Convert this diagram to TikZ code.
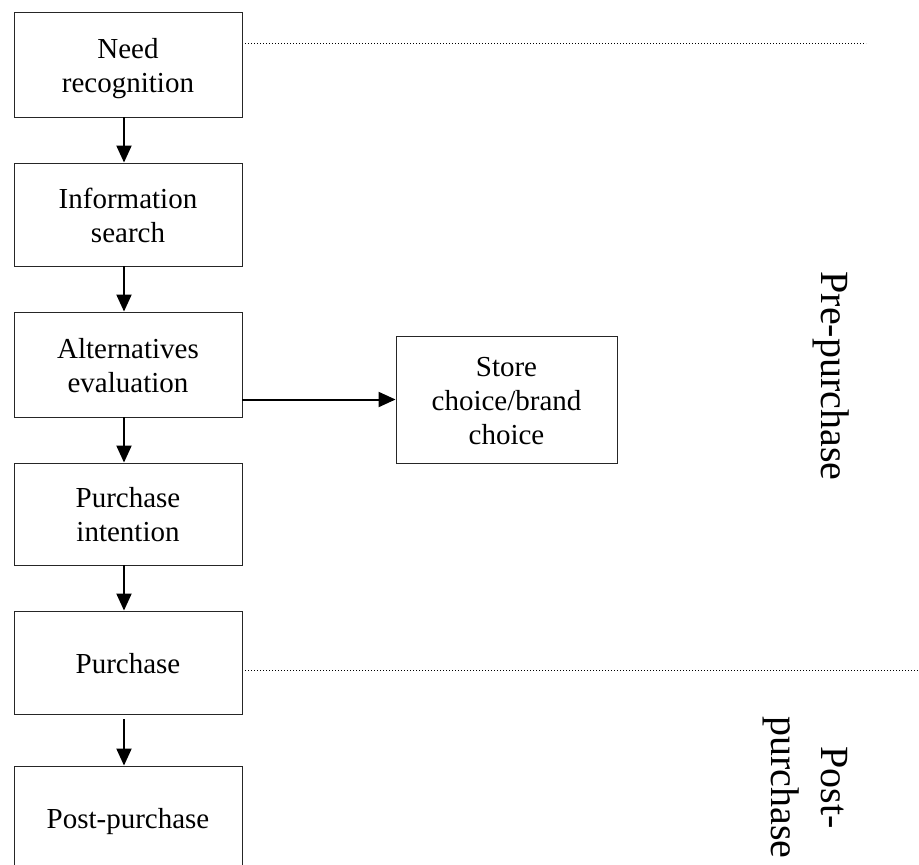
\documentclass[tikz,border=0pt]{standalone}
\usepackage{fontspec}
\setmainfont{Liberation Serif}
\usetikzlibrary{arrows.meta}
\newcommand{\ls}{\rule[-6.5pt]{0pt}{34pt}}
\begin{document}
\begin{tikzpicture}[x=1pt,y=-1pt,
  stage/.style={draw=black!85, line width=0.9pt, minimum width=228pt, inner sep=0pt, align=center,
    font=\fontsize{29}{34}\selectfont},
  flow/.style={line width=2pt, -{Triangle[length=17pt,width=15pt]}},
  divider/.style={line width=0.8pt, dash pattern=on 1pt off 2pt},
  phase/.style={rotate=-90, align=center, font=\fontsize{40}{50}\selectfont}]
\useasboundingbox (0,0) rectangle (919,865);
\clip (0,0) rectangle (919,865);
\node[stage, minimum height=105pt] (need) at (128,64.5) {\ls Need\\\ls recognition};
\node[stage, minimum height=103pt] (info) at (128,214.5) {\ls Information\\\ls search};
\node[stage, minimum height=105pt] (alt) at (128,364.5) {\ls Alternatives\\\ls evaluation};
\node[stage, minimum height=102pt] (intent) at (128,514) {\ls Purchase\\\ls intention};
\node[stage, minimum height=103pt] (purch) at (128,662.5) {\ls Purchase};
\node[stage, minimum height=104pt] (post) at (128,818) {\ls Post-purchase};
\node[stage, minimum width=221pt, minimum height=127pt] (store) at (506.5,399.5) {\ls Store\\\ls choice/brand\\\ls choice};
\draw[flow] ([xshift=-4pt]need.south) -- ([xshift=-4pt]info.north);
\draw[flow] ([xshift=-4pt]info.south) -- ([xshift=-4pt]alt.north);
\draw[flow] ([xshift=-4pt]alt.south) -- ([xshift=-4pt]intent.north);
\draw[flow] ([xshift=-4pt]intent.south) -- ([xshift=-4pt]purch.north);
\draw[flow] ([xshift=-4pt,yshift=-5pt]purch.south) -- ([xshift=-4pt]post.north);
\draw[flow] (store.west -| alt.east) -- (store.west);
\coordinate (d1s) at (245,43);
\coordinate (d1e) at (866,43);
\coordinate (d2s) at (245,670);
\coordinate (d2e) at (919,670);
\draw[divider] (d1s) -- (d1e);
\draw[divider] (d2s) -- (d2e);
\node[phase] (pre) at (831,376) {Pre-purchase};
\node[phase] (postp) at (805,787.5) {Post-\\purchase};
\end{tikzpicture}
\end{document}
